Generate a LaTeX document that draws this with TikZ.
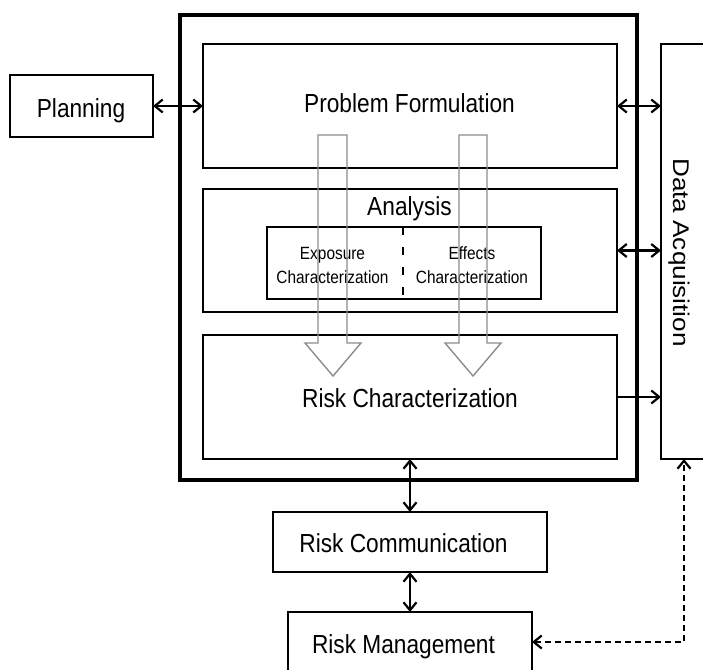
\documentclass[tikz,border=0pt]{standalone}
\usepackage{fontspec}
\setmainfont{Liberation Sans}
\usetikzlibrary{arrows.meta}
% text is set slightly taller than wide, as in the printed figure
\newcommand{\tall}[1]{\scalebox{1}[1.15]{#1}}
\newcommand{\longer}[1]{\scalebox{1.15}[1]{#1}}

\begin{document}
\begin{tikzpicture}[x=1pt, y=-1pt,
  box/.style={draw, rectangle, line width=2.2pt, inner sep=0pt, outer sep=0pt},
  lbl/.style={inner sep=0pt, anchor=base, font=\fontsize{22.7}{27}\selectfont},
  smalllbl/.style={inner sep=0pt, anchor=base, font=\fontsize{15.4}{18}\selectfont},
  >={Straight Barb[length=8pt, width=13pt]},
  link/.style={line width=2.2pt},
  flowarrow/.style={draw=black!45, line width=1.4pt, line join=miter}]

\useasboundingbox (0,0) rectangle (703,669);
\clip (0,0) rectangle (703,669);

% assessment frame and its three phases
\node[box, line width=4.8pt, minimum width=457pt, minimum height=465pt] (frame) at (408.5,247.5) {};
\node[box, minimum width=414pt, minimum height=124pt] (pf) at (410,106) {};
\node[box, minimum width=414pt, minimum height=123pt] (an) at (410,250.5) {};
\node[box, minimum width=414pt, minimum height=124pt] (rc) at (410,397) {};
\node[box, minimum width=274pt, minimum height=72pt] (inner) at (404,263) {};

% surrounding boxes
\node[box, minimum width=143pt, minimum height=62pt] (plan) at (81.5,106) {};
\node[box, minimum width=69pt, minimum height=415pt] (da) at (695.5,251.5) {};
\node[box, minimum width=274pt, minimum height=60pt] (rcom) at (410,542) {};
\node[box, minimum width=244pt, minimum height=60pt] (rm) at (410,642) {};

% labels
\node[lbl] (pftext) at (409.5,112) {\tall{Problem Formulation}};
\node[lbl] (antext) at (409.5,215) {\tall{Analysis}};
\node[lbl] (rctext) at (410,407) {\tall{Risk Characterization}};
\node[lbl] (plantext) at (81,117) {\tall{Planning}};
\node[lbl] (rcomtext) at (403.5,552) {\tall{Risk Communication}};
\node[lbl] (rmtext) at (403.5,653) {\tall{Risk Management}};
\node[lbl, rotate=-90] (datext) at (673,252.5) {\longer{Data Acquisition}};

\node[smalllbl] (ex1) at (332.5,259) {\tall{Exposure}};
\node[smalllbl] (ex2) at (332.5,283) {\tall{Characterization}};
\node[smalllbl] (ef1) at (472,259) {\tall{Effects}};
\node[smalllbl] (ef2) at (472,283) {\tall{Characterization}};

% divider between exposure and effects
\draw[line width=2.2pt, dash pattern=on 8pt off 12pt]
  ([xshift=136pt]inner.north west) -- ([xshift=136pt]inner.south west);

% hollow flow arrows from problem formulation to risk characterization
\draw[flowarrow] (318,135) -- (347,135) -- (347,343) -- (361,343) -- (333,376)
  -- (305,343) -- (318,343) -- cycle;
\draw[flowarrow] (459,135) -- (487,135) -- (487,343) -- (501,343) -- (473,376)
  -- (445,343) -- (459,343) -- cycle;

% connectors
\draw[link, <->] (plan.east) -- (plan.east -| pf.west);
\draw[link, <->] (pf.east) -- (pf.east -| da.west);
\draw[link, <->] (an.east) -- (an.east -| da.west);
\draw[link, ->] (rc.east) -- (rc.east -| da.west);
\draw[link, <->] (rc.south) -- (rcom.north);
\draw[link, <->] (rcom.south) -- (rm.north);
\coordinate (bend) at (684,642);
\draw[link, dash pattern=on 6pt off 4pt, <->] (rm.east) -- (bend) -- (bend |- da.south);

\end{tikzpicture}
\end{document}
